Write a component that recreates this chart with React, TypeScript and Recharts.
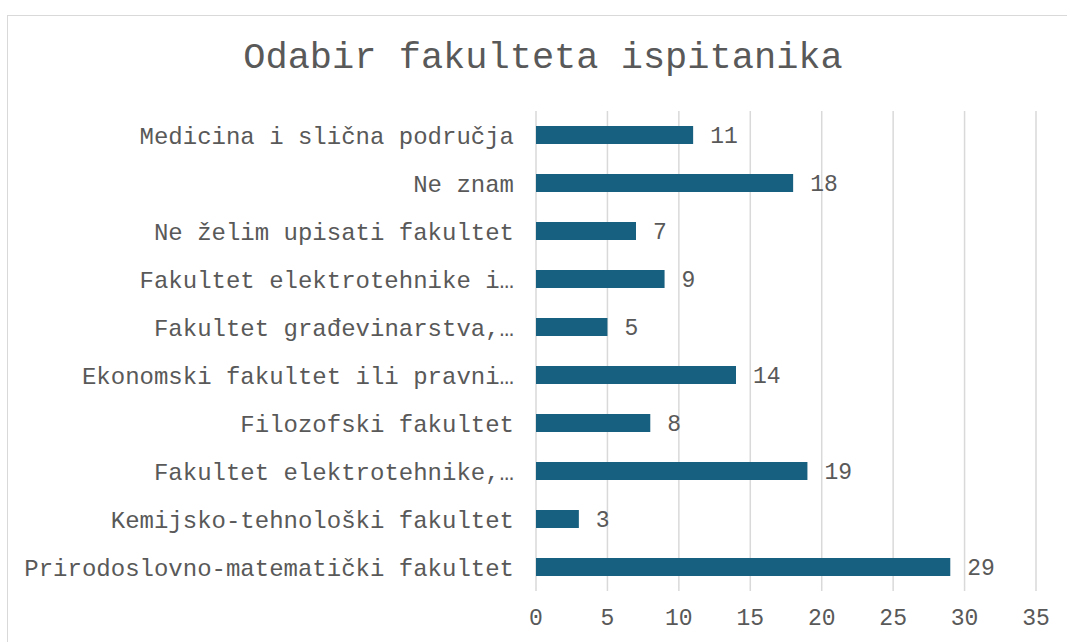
import React from "react";
import {
  BarChart,
  Bar,
  XAxis,
  YAxis,
  CartesianGrid,
  LabelList,
} from "recharts";

const categories = [
  "Medicina i slična područja",
  "Ne znam",
  "Ne želim upisati fakultet",
  "Fakultet elektrotehnike i…",
  "Fakultet građevinarstva,…",
  "Ekonomski fakultet ili pravni…",
  "Filozofski fakultet",
  "Fakultet elektrotehnike,…",
  "Kemijsko-tehnološki fakultet",
  "Prirodoslovno-matematički fakultet",
];
const counts = [11, 18, 7, 9, 5, 14, 8, 19, 3, 29];
const xTicks = [0, 5, 10, 15, 20, 25, 30, 35];

const data = categories.map((name, i) => ({ name, count: counts[i] }));

const font = '"Liberation Mono", "Courier New", monospace';
const textColor = "#595959";
const barColor = "#17607F";

const App: React.FC = () => {
  return (
    <div
      style={{
        position: "absolute",
        left: 7,
        top: 15,
        width: 1060,
        height: 640,
        border: "1px solid #D9D9D9",
        background: "#fff",
        fontFamily: font,
      }}
    >
      <div
        style={{
          position: "absolute",
          top: 24,
          left: 0,
          width: "100%",
          paddingLeft: 10,
          boxSizing: "border-box",
          textAlign: "center",
          fontSize: 37,
          lineHeight: "37px",
          color: textColor,
          fontFamily: font,
        }}
      >
        Odabir fakulteta ispitanika
      </div>
      <BarChart
        width={1060}
        height={640}
        data={data}
        layout="vertical"
        margin={{ top: 95, right: 32, left: 0, bottom: 35 }}
        barSize={18}
      >
        <CartesianGrid
          horizontal={false}
          stroke="#D9D9D9"
          strokeWidth={1.5}
        />
        <XAxis
          type="number"
          domain={[0, 35]}
          ticks={xTicks}
          height={30}
          axisLine={false}
          tickLine={false}
          tickSize={0}
          tickMargin={18}
          tick={{ fill: textColor, fontSize: 23, fontFamily: font }}
        />
        <YAxis
          type="category"
          dataKey="name"
          width={528}
          axisLine={false}
          tickLine={false}
          tickSize={0}
          tickMargin={22}
          interval={0}
          tick={{ fill: textColor, fontSize: 24, fontFamily: font }}
        />
        <Bar dataKey="count" fill={barColor} isAnimationActive={false}>
          <LabelList
            dataKey="count"
            position="right"
            offset={17}
            fill={textColor}
            fontSize={23}
            fontFamily={font}
          />
        </Bar>
      </BarChart>
    </div>
  );
};

export default App;
